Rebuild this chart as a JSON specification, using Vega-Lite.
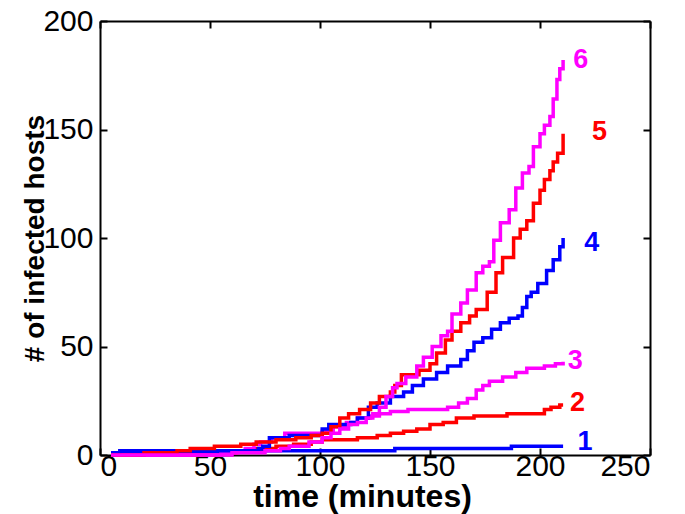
{
  "$schema": "https://vega.github.io/schema/vega-lite/v6.json",
  "width": 550,
  "height": 434,
  "autosize": "none",
  "padding": {"left": 100, "top": 21, "right": 35, "bottom": 59},
  "background": "white",
  "config": {
    "view": {"stroke": null},
    "axis": {
      "grid": false,
      "domainColor": "black",
      "domainWidth": 2,
      "tickColor": "black",
      "tickWidth": 2,
      "tickSize": -7,
      "labelFont": "Liberation Sans",
      "labelFontSize": 30,
      "labelColor": "black",
      "titleFont": "Liberation Sans",
      "titleFontSize": 28,
      "titleFontWeight": "bold",
      "titleColor": "black"
    }
  },
  "layer": [
    {
      "data": {
        "values": [
          {"curve": "1", "t": 5, "n": 1}, {"curve": "1", "t": 60, "n": 2}, {"curve": "1", "t": 134, "n": 3}, {"curve": "1", "t": 187, "n": 4}, {"curve": "1", "t": 210.5, "n": 4},
          {"curve": "2", "t": 5, "n": 0}, {"curve": "2", "t": 55, "n": 1}, {"curve": "2", "t": 62, "n": 2}, {"curve": "2", "t": 70, "n": 3}, {"curve": "2", "t": 80, "n": 4}, {"curve": "2", "t": 88, "n": 5}, {"curve": "2", "t": 96, "n": 6}, {"curve": "2", "t": 101, "n": 7}, {"curve": "2", "t": 117, "n": 8}, {"curve": "2", "t": 126, "n": 9}, {"curve": "2", "t": 132, "n": 10}, {"curve": "2", "t": 138, "n": 11}, {"curve": "2", "t": 144, "n": 12}, {"curve": "2", "t": 150, "n": 14}, {"curve": "2", "t": 156, "n": 15}, {"curve": "2", "t": 162, "n": 17}, {"curve": "2", "t": 170, "n": 18}, {"curve": "2", "t": 185, "n": 19}, {"curve": "2", "t": 202, "n": 21}, {"curve": "2", "t": 205, "n": 22}, {"curve": "2", "t": 209, "n": 23}, {"curve": "2", "t": 210.5, "n": 23},
          {"curve": "3", "t": 5, "n": 0}, {"curve": "3", "t": 55, "n": 1}, {"curve": "3", "t": 62, "n": 2}, {"curve": "3", "t": 66, "n": 3}, {"curve": "3", "t": 70, "n": 5}, {"curve": "3", "t": 73, "n": 6}, {"curve": "3", "t": 78, "n": 8}, {"curve": "3", "t": 84, "n": 10}, {"curve": "3", "t": 101, "n": 11}, {"curve": "3", "t": 106, "n": 13}, {"curve": "3", "t": 112, "n": 15}, {"curve": "3", "t": 117, "n": 17}, {"curve": "3", "t": 123, "n": 18}, {"curve": "3", "t": 127, "n": 19}, {"curve": "3", "t": 132, "n": 20}, {"curve": "3", "t": 140, "n": 21}, {"curve": "3", "t": 158, "n": 22}, {"curve": "3", "t": 163, "n": 24}, {"curve": "3", "t": 167, "n": 26}, {"curve": "3", "t": 171, "n": 30}, {"curve": "3", "t": 174, "n": 32}, {"curve": "3", "t": 177, "n": 34}, {"curve": "3", "t": 183, "n": 36}, {"curve": "3", "t": 189, "n": 38}, {"curve": "3", "t": 194, "n": 40}, {"curve": "3", "t": 202, "n": 41}, {"curve": "3", "t": 207, "n": 42}, {"curve": "3", "t": 210.5, "n": 43},
          {"curve": "4", "t": 5, "n": 1}, {"curve": "4", "t": 9, "n": 2}, {"curve": "4", "t": 72, "n": 3}, {"curve": "4", "t": 74, "n": 4}, {"curve": "4", "t": 77, "n": 8}, {"curve": "4", "t": 86, "n": 9}, {"curve": "4", "t": 101, "n": 12}, {"curve": "4", "t": 104, "n": 14}, {"curve": "4", "t": 114, "n": 15}, {"curve": "4", "t": 117, "n": 17}, {"curve": "4", "t": 122, "n": 22}, {"curve": "4", "t": 126, "n": 24}, {"curve": "4", "t": 132, "n": 27}, {"curve": "4", "t": 138, "n": 29}, {"curve": "4", "t": 142, "n": 32}, {"curve": "4", "t": 147, "n": 35}, {"curve": "4", "t": 153, "n": 38}, {"curve": "4", "t": 158, "n": 41}, {"curve": "4", "t": 164, "n": 44}, {"curve": "4", "t": 167, "n": 48}, {"curve": "4", "t": 170, "n": 52}, {"curve": "4", "t": 174, "n": 54}, {"curve": "4", "t": 178, "n": 58}, {"curve": "4", "t": 182, "n": 61}, {"curve": "4", "t": 186, "n": 63}, {"curve": "4", "t": 190, "n": 64}, {"curve": "4", "t": 192, "n": 68}, {"curve": "4", "t": 194, "n": 73}, {"curve": "4", "t": 196, "n": 75}, {"curve": "4", "t": 199, "n": 79}, {"curve": "4", "t": 203, "n": 85}, {"curve": "4", "t": 206, "n": 90}, {"curve": "4", "t": 209, "n": 96}, {"curve": "4", "t": 210.5, "n": 100},
          {"curve": "5", "t": 5, "n": 0}, {"curve": "5", "t": 20, "n": 1}, {"curve": "5", "t": 35, "n": 2}, {"curve": "5", "t": 41, "n": 3}, {"curve": "5", "t": 52, "n": 4}, {"curve": "5", "t": 64, "n": 5}, {"curve": "5", "t": 71, "n": 6}, {"curve": "5", "t": 80, "n": 7}, {"curve": "5", "t": 89, "n": 8}, {"curve": "5", "t": 96, "n": 9}, {"curve": "5", "t": 101, "n": 10}, {"curve": "5", "t": 105, "n": 13}, {"curve": "5", "t": 109, "n": 17}, {"curve": "5", "t": 113, "n": 19}, {"curve": "5", "t": 118, "n": 21}, {"curve": "5", "t": 123, "n": 24}, {"curve": "5", "t": 127, "n": 27}, {"curve": "5", "t": 132, "n": 29}, {"curve": "5", "t": 134, "n": 32}, {"curve": "5", "t": 137, "n": 37}, {"curve": "5", "t": 145, "n": 39}, {"curve": "5", "t": 150, "n": 42}, {"curve": "5", "t": 153, "n": 47}, {"curve": "5", "t": 157, "n": 53}, {"curve": "5", "t": 160, "n": 57}, {"curve": "5", "t": 164, "n": 61}, {"curve": "5", "t": 168, "n": 64}, {"curve": "5", "t": 171, "n": 67}, {"curve": "5", "t": 176, "n": 75}, {"curve": "5", "t": 180, "n": 84}, {"curve": "5", "t": 183, "n": 91}, {"curve": "5", "t": 188, "n": 100}, {"curve": "5", "t": 191, "n": 104}, {"curve": "5", "t": 194, "n": 108}, {"curve": "5", "t": 197, "n": 116}, {"curve": "5", "t": 200, "n": 122}, {"curve": "5", "t": 202, "n": 127}, {"curve": "5", "t": 204.5, "n": 131}, {"curve": "5", "t": 206, "n": 135}, {"curve": "5", "t": 208, "n": 139}, {"curve": "5", "t": 210.5, "n": 148},
          {"curve": "6", "t": 5, "n": 0}, {"curve": "6", "t": 60, "n": 1}, {"curve": "6", "t": 75, "n": 2}, {"curve": "6", "t": 82, "n": 3}, {"curve": "6", "t": 86, "n": 4}, {"curve": "6", "t": 95, "n": 6}, {"curve": "6", "t": 101, "n": 8}, {"curve": "6", "t": 105, "n": 10}, {"curve": "6", "t": 109, "n": 12}, {"curve": "6", "t": 113, "n": 14}, {"curve": "6", "t": 117, "n": 15}, {"curve": "6", "t": 121, "n": 17}, {"curve": "6", "t": 124, "n": 19}, {"curve": "6", "t": 127, "n": 22}, {"curve": "6", "t": 130, "n": 27}, {"curve": "6", "t": 133, "n": 31}, {"curve": "6", "t": 135, "n": 33}, {"curve": "6", "t": 139, "n": 36}, {"curve": "6", "t": 144, "n": 41}, {"curve": "6", "t": 147, "n": 45}, {"curve": "6", "t": 151, "n": 50}, {"curve": "6", "t": 155, "n": 55}, {"curve": "6", "t": 158, "n": 57}, {"curve": "6", "t": 160, "n": 65}, {"curve": "6", "t": 164, "n": 70}, {"curve": "6", "t": 167, "n": 76}, {"curve": "6", "t": 171, "n": 84}, {"curve": "6", "t": 174, "n": 87}, {"curve": "6", "t": 177, "n": 89}, {"curve": "6", "t": 179, "n": 99}, {"curve": "6", "t": 182, "n": 107}, {"curve": "6", "t": 186, "n": 113}, {"curve": "6", "t": 189, "n": 123}, {"curve": "6", "t": 192, "n": 130}, {"curve": "6", "t": 195, "n": 133}, {"curve": "6", "t": 197, "n": 142}, {"curve": "6", "t": 200, "n": 148}, {"curve": "6", "t": 202, "n": 152}, {"curve": "6", "t": 204.5, "n": 156}, {"curve": "6", "t": 206, "n": 164}, {"curve": "6", "t": 207.7, "n": 173}, {"curve": "6", "t": 209, "n": 178}, {"curve": "6", "t": 210.5, "n": 182}
        ]
      },
      "mark": {"type": "line", "interpolate": "step-after", "strokeWidth": 3.5},
      "encoding": {
        "x": {"field": "t", "type": "quantitative", "scale": {"domain": [0, 250], "nice": false},
              "axis": {"orient": "bottom", "values": [0, 50, 100, 150, 200, 250], "title": "time (minutes)", "labelPadding": 3,
                       "titleFontSize": 32, "titleX": 262, "titleY": 51, "titleBaseline": "alphabetic"}},
        "y": {"field": "n", "type": "quantitative", "scale": {"domain": [0, 200], "nice": false},
              "axis": {"orient": "left", "values": [0, 50, 100, 150, 200], "title": "# of infected hosts", "labelPadding": 14,
                       "titleX": -57, "titleBaseline": "alphabetic"}},
        "color": {"field": "curve", "type": "nominal",
                  "scale": {"domain": ["1", "2", "3", "4", "5", "6"], "range": ["#0000ff", "#ff0000", "#ff00ff", "#0000ff", "#ff0000", "#ff00ff"]},
                  "legend": null}
      }
    },
    {
      "data": {
        "values": [
          {"curve": "1", "label": "1", "t": 220.5, "n": 6},
          {"curve": "2", "label": "2", "t": 217, "n": 24},
          {"curve": "3", "label": "3", "t": 216, "n": 43.5},
          {"curve": "4", "label": "4", "t": 223.5, "n": 97.7},
          {"curve": "5", "label": "5", "t": 227, "n": 149},
          {"curve": "6", "label": "6", "t": 218.5, "n": 182}
        ]
      },
      "mark": {"type": "text", "font": "Liberation Sans", "fontSize": 27, "fontWeight": "bold", "align": "center", "baseline": "middle"},
      "encoding": {
        "x": {"field": "t", "type": "quantitative", "axis": {"orient": "top", "values": [0, 50, 100, 150, 200, 250], "labels": false, "title": null}},
        "y": {"field": "n", "type": "quantitative", "axis": {"orient": "right", "values": [0, 50, 100, 150, 200], "labels": false, "title": null}},
        "text": {"field": "label"},
        "color": {"field": "curve", "type": "nominal", "legend": null}
      }
    }
  ],
  "resolve": {"axis": {"x": "independent", "y": "independent"}}
}
